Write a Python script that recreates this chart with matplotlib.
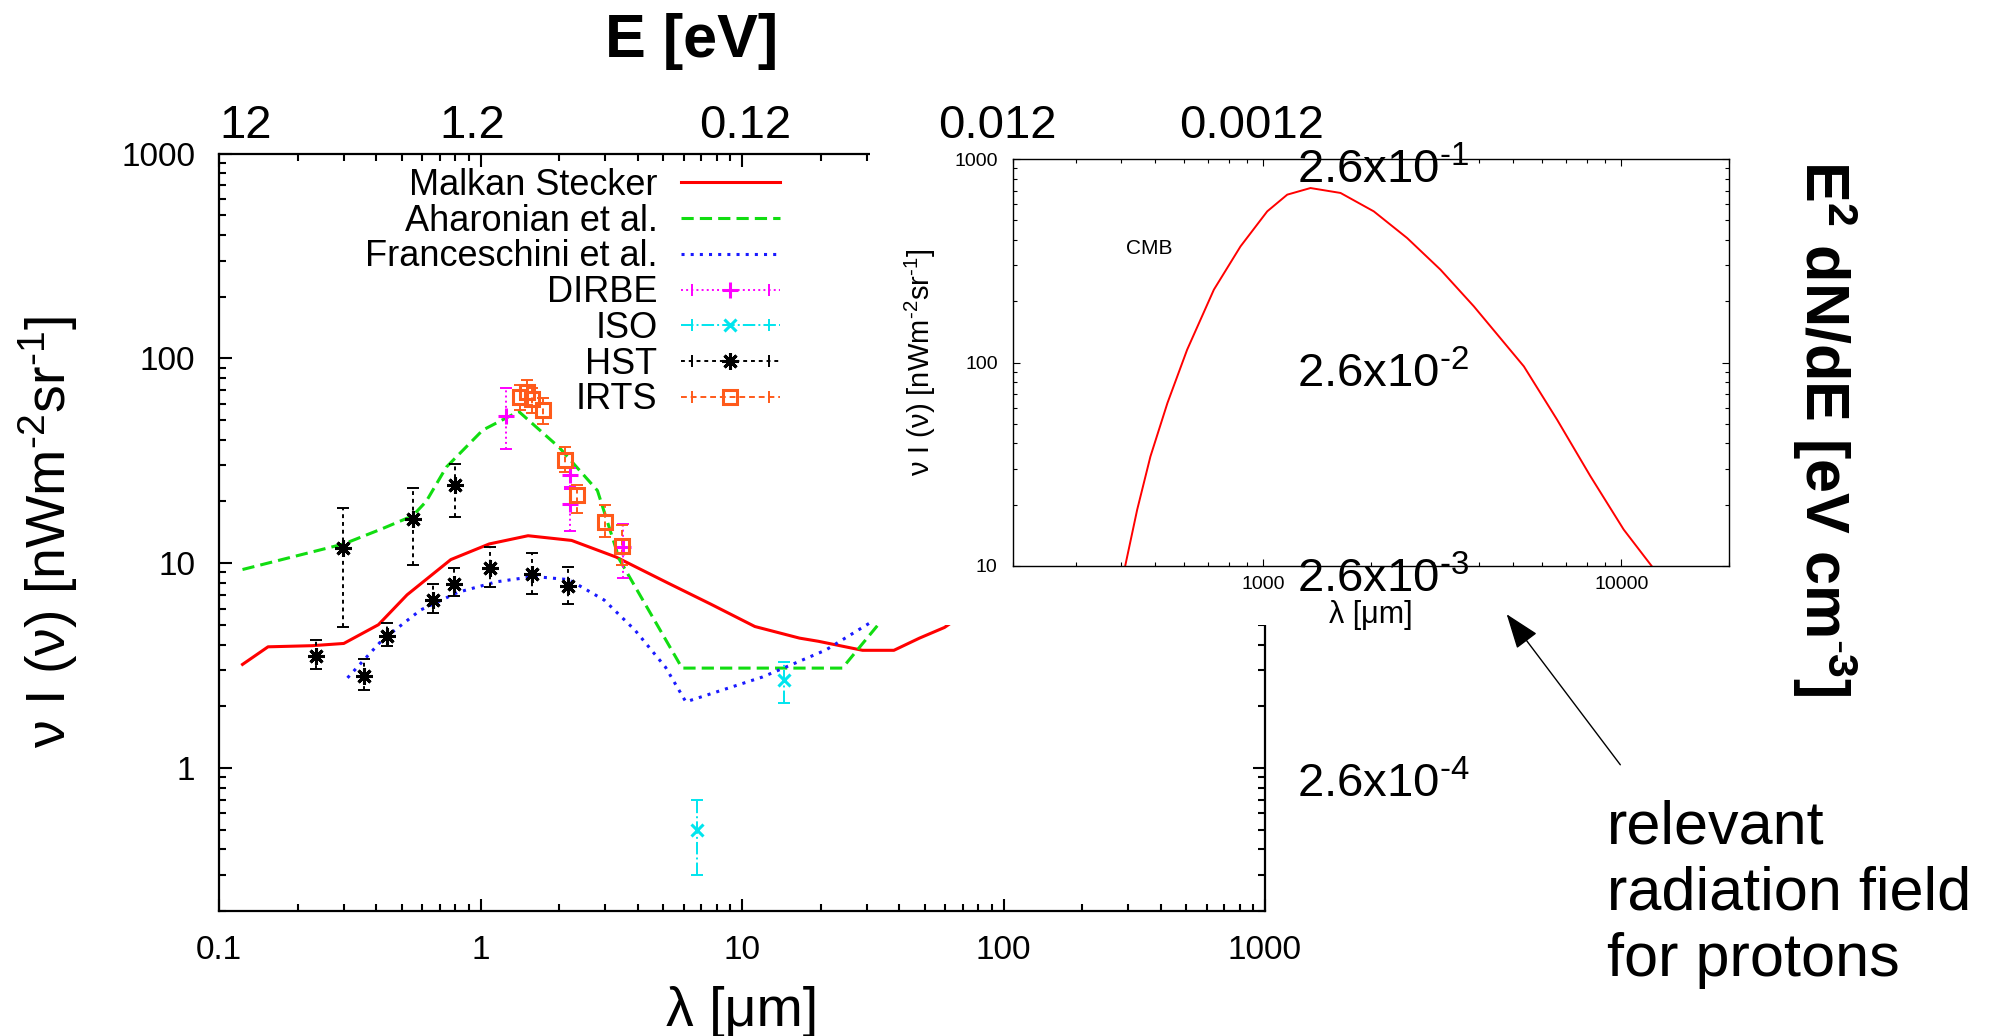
import numpy as np
import matplotlib
matplotlib.use('Agg')
import matplotlib.pyplot as plt
import matplotlib.transforms as mtransforms
from matplotlib.lines import Line2D
from matplotlib.patches import Rectangle, FancyArrowPatch
from matplotlib.legend_handler import HandlerTuple, HandlerLine2D
from matplotlib.ticker import FuncFormatter, NullFormatter

plt.rcParams['font.family'] = ['Liberation Sans', 'DejaVu Sans']
plt.rcParams['mathtext.fontset'] = 'custom'
plt.rcParams['mathtext.rm'] = 'Liberation Sans'
plt.rcParams['mathtext.it'] = 'Liberation Sans:italic'
plt.rcParams['mathtext.bf'] = 'Liberation Sans:bold'

# EBL models: wavelength [um], nu I(nu) [nW m^-2 sr^-1]
ms_lam = [0.123, 0.154, 0.227, 0.30, 0.407, 0.524, 0.77, 1.08, 1.52, 2.23, 3.3,
          5.2, 7.6, 11.2, 16.6, 19.6, 28.9, 38.1, 47.7, 59.5, 70.0]
ms_val = [3.2, 3.9, 3.95, 4.05, 5.0, 7.0, 10.4, 12.4, 13.6, 12.9, 10.7,
          8.0, 6.3, 4.9, 4.3, 4.15, 3.75, 3.75, 4.3, 4.85, 5.6]

ah_lam = [0.123, 0.30, 0.42, 0.55, 0.62, 0.74, 1.02, 1.4, 2.0, 2.8, 3.4, 5.9, 24.2, 33.8]
ah_val = [9.3, 12.4, 14.7, 17.0, 20.0, 29.4, 44.6, 55.0, 36.7, 22.6, 10.4, 3.07, 3.07, 5.15]

fr_lam = [0.31, 0.42, 0.59, 0.82, 1.15, 1.60, 2.18, 2.97, 3.9, 5.1, 6.1, 12.0, 20.9, 30.8]
fr_val = [2.75, 4.2, 5.9, 7.2, 8.1, 8.6, 8.3, 6.6, 4.7, 3.1, 2.1, 2.78, 3.76, 5.1]

# measurements: value, lower and upper end of the error bar
dirbe_lam = [1.25, 2.2, 2.2, 3.5]
dirbe_val = [52.0, 26.9, 19.5, 12.0]
dirbe_lo = [36.0, 23.5, 14.3, 8.5]
dirbe_hi = [72.0, 29.0, 23.0, 15.5]

iso_lam = [6.7, 14.5]
iso_val = [0.5, 2.7]
iso_lo = [0.30, 2.07]
iso_hi = [0.70, 3.3]

hst_lam = [0.235, 0.297, 0.36, 0.44, 0.55, 0.66, 0.79, 0.80, 1.09, 1.57, 2.16]
hst_val = [3.5, 11.8, 2.8, 4.4, 16.5, 6.6, 7.9, 24.0, 9.5, 8.8, 7.7]
hst_lo = [3.05, 4.9, 2.4, 3.95, 9.8, 5.7, 6.9, 16.8, 7.6, 7.1, 6.3]
hst_hi = [4.2, 18.5, 3.4, 5.1, 23.2, 7.9, 9.5, 30.5, 12.0, 11.2, 9.6]

irts_lam = [1.42, 1.50, 1.57, 1.73, 2.10, 2.33, 2.98, 3.49]
irts_val = [65.0, 68.5, 63.0, 56.0, 31.8, 21.5, 15.8, 12.1]
irts_lo = [56.0, 59.0, 54.0, 48.0, 27.9, 17.6, 13.4, 9.8]
irts_hi = [74.0, 78.0, 72.0, 64.0, 36.7, 24.0, 19.2, 15.3]

# CMB (inset)
cmb_lam = [412, 444.5, 484, 540, 613, 728, 864, 1026, 1167, 1355, 1644, 2036,
           2523, 3126, 3873, 5346, 6622, 8204, 10160, 12160]
cmb_val = [10.1, 18.9, 34.5, 63.2, 115.6, 228, 372, 553, 668, 720, 681, 553,
           409, 286, 189, 95.7, 52.3, 27.6, 15.1, 10]

# photon energy labels on top (eV) and the wavelength they sit at
e_labels = ['12', '1.2', '0.12', '0.012', '0.0012']
e_label_lam = [0.126, 0.93, 10.3, 95, 890]
# energy density labels for the right side, at nu I(nu) = 1000, 100, 10, 1
u_labels = [r'2.6x10$^{\text{-1}}$', r'2.6x10$^{\text{-2}}$',
            r'2.6x10$^{\text{-3}}$', r'2.6x10$^{\text{-4}}$']
u_label_val = [1000, 100, 10, 1]

W, H = 2007, 1036
fig = plt.figure(figsize=(W / 100, H / 100), dpi=100)

ax = fig.add_axes([219 / W, 1 - 911 / H, 1046 / W, 757.5 / H])
ax.set_xscale('log')
ax.set_yscale('log')
ax.set_xlim(0.1, 1000)
ax.set_ylim(0.2, 1000)

red, green, blue = '#ff0000', '#11dd11', '#1a1aff'
magenta, cyan, orange = '#ff00ff', '#00e5ee', '#ff5a1a'

ax.plot(ms_lam, ms_val, color=red, lw=2.2, zorder=3)
ax.plot(ah_lam, ah_val, color=green, lw=2.2, ls=(0, (4, 2)), zorder=3)
ax.plot(fr_lam, fr_val, color=blue, lw=2.2, ls=(0, (1, 2)), zorder=3)


def points(lam, val, lo, hi, color, marker, ls, ms):
    val = np.array(val)
    yerr = [val - np.array(lo), np.array(hi) - val]
    cont = ax.errorbar(lam, val, yerr=yerr, fmt='none', ecolor=color,
                       elinewidth=1.4, capsize=4, capthick=1.4, zorder=4)
    for bars in cont[2]:
        bars.set_linestyle(ls)
    ax.plot(lam, val, ls='none', marker=marker, color=color, ms=ms,
            mfc='none', mew=2.2, zorder=5)


points(dirbe_lam, dirbe_val, dirbe_lo, dirbe_hi, magenta, '+', ':', 12)
points(iso_lam, iso_val, iso_lo, iso_hi, cyan, 'x', '-.', 9)
points(hst_lam, hst_val, hst_lo, hst_hi, 'black', (8, 2, 0), (0, (2, 2)), 12)
points(irts_lam, irts_val, irts_lo, irts_hi, orange, 's', (0, (3, 2)), 10)

fmt = FuncFormatter(lambda v, _: f'{v:g}')
ax.xaxis.set_major_formatter(fmt)
ax.yaxis.set_major_formatter(fmt)
ax.xaxis.set_minor_formatter(NullFormatter())
ax.yaxis.set_minor_formatter(NullFormatter())
ax.tick_params(which='both', direction='in', top=True, right=True, width=1.5, labelsize=24)
ax.tick_params(which='major', length=9)
ax.tick_params(which='minor', length=5)
ax.tick_params(axis='x', pad=17)
ax.tick_params(axis='y', pad=17)
for sp in ax.spines.values():
    sp.set_linewidth(1.6)

ax.set_xlabel('λ [μm]', fontsize=40, va='baseline')
ax.xaxis.set_label_coords(0.5, -0.152)
ax.set_ylabel(r'ν I (ν) [nWm$^{\text{-2}}$sr$^{\text{-1}}$]', fontsize=40, va='center')
ax.yaxis.set_label_coords(-0.163, 0.5)

# legend, gnuplot style: label left of the sample
handles, hmap = [], {tuple: HandlerTuple(ndivide=1)}
for c, ls in [(red, '-'), (green, (0, (4, 2))), (blue, (0, (1, 2)))]:
    handles.append(Line2D([], [], color=c, ls=ls, lw=2.2))
for c, m, ls, ms in [(magenta, '+', ':', 12), (cyan, 'x', '-.', 9),
                     ('black', (8, 2, 0), (0, (2, 2)), 12), (orange, 's', (0, (3, 2)), 10)]:
    main = Line2D([], [], color=c, ls=ls, lw=1.4, marker=m, ms=ms, mfc='none', mew=2.2)
    caps = Line2D([], [], color=c, ls='none', marker='|', ms=8, mew=1.4)
    hmap[caps] = HandlerLine2D(numpoints=2)
    handles.append((main, caps))
labels = ['Malkan Stecker', 'Aharonian et al.', 'Franceschini et al.',
          'DIRBE', 'ISO', 'HST', 'IRTS']
ax.legend(handles, labels, handler_map=hmap, loc='upper right', markerfirst=False,
          frameon=False, fontsize=26, handlelength=2.75, handletextpad=0.64,
          labelspacing=0.02, borderpad=0, borderaxespad=0,
          bbox_to_anchor=(780 / W, 1 - 168 / H), bbox_transform=fig.transFigure)

# white patch where the CMB plot is pasted over the main plot
fig.add_artist(Rectangle((870 / W, 1 - 625 / H), 450 / W, 485 / H,
                         transform=fig.transFigure, facecolor='white',
                         edgecolor='none', zorder=1))

ins = fig.add_axes([1013 / W, 1 - 566 / H, 716 / W, 407 / H], zorder=2)
ins.set_xscale('log')
ins.set_yscale('log')
ins.set_xlim(200, 20000)
ins.set_ylim(10, 1000)
ins.plot(cmb_lam, cmb_val, color=red, lw=1.4)
ins.xaxis.set_major_formatter(fmt)
ins.yaxis.set_major_formatter(fmt)
ins.xaxis.set_minor_formatter(NullFormatter())
ins.yaxis.set_minor_formatter(NullFormatter())
ins.tick_params(which='both', direction='in', top=True, right=True, width=0.8, labelsize=14)
ins.tick_params(which='major', length=5)
ins.tick_params(which='minor', length=3)
ins.tick_params(axis='x', pad=7)
ins.tick_params(axis='y', pad=11)
for sp in ins.spines.values():
    sp.set_linewidth(1.0)
ins.set_xlabel('λ [μm]', fontsize=22, labelpad=5)
ins.set_ylabel(r'ν I (ν) [nWm$^{\text{-2}}$sr$^{\text{-1}}$]', fontsize=21, labelpad=12)
ins.text(0.19, 0.78, 'CMB', transform=ins.transAxes, fontsize=15, ha='center', va='center')

# top energy axis labels
top_tr = mtransforms.blended_transform_factory(ax.transData, fig.transFigure)
for lab, lam in zip(e_labels, e_label_lam):
    fig.text(lam, 1 - 138 / H, lab, transform=top_tr, fontsize=34,
             ha='center', va='baseline', zorder=5)
fig.text(692 / W, 1 - 57 / H, 'E [eV]', fontsize=44, fontweight='bold',
         ha='center', va='baseline')

# right energy density labels
right_tr = mtransforms.blended_transform_factory(fig.transFigure, ax.transData) + \
    mtransforms.ScaledTranslation(0, -0.295, fig.dpi_scale_trans)
for lab, v in zip(u_labels, u_label_val):
    fig.text(1297 / W, v, lab, transform=right_tr, fontsize=34,
             ha='left', va='baseline', zorder=5)
fig.text(1825 / W, 1 - 428 / H, r'E$^{\mathbf{2}}$ dN/dE [eV cm$^{\text{-}\mathbf{3}}$]',
         fontsize=44, fontweight='bold', rotation=270, ha='center', va='center')

# annotation
fig.add_artist(FancyArrowPatch((1622 / W, 1 - 767 / H), (1505 / W, 1 - 612 / H),
                               transform=fig.transFigure,
                               arrowstyle='-|>,head_length=1.1,head_width=0.4',
                               mutation_scale=20, lw=1, color='black', zorder=5))
fig.text(1607 / W, 1 - 800 / H, 'relevant\nradiation field\nfor protons',
         fontsize=44, ha='left', va='top')

fig.savefig('out.png', dpi=100, facecolor='white')
